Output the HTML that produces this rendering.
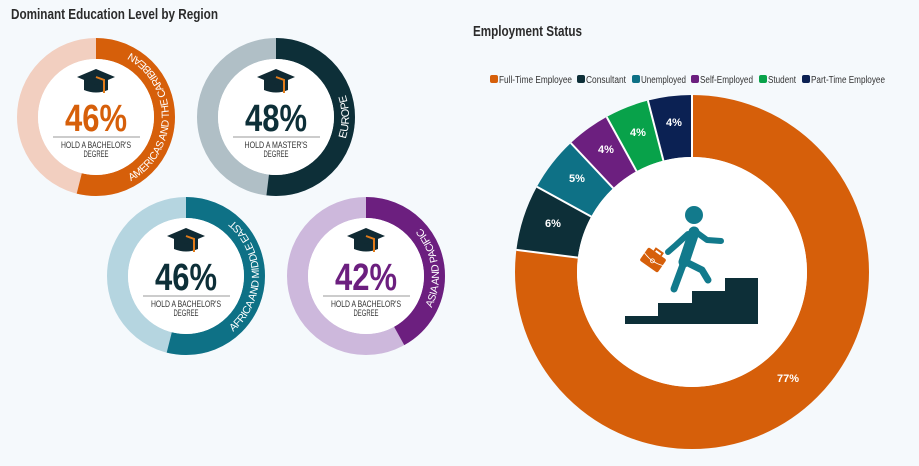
<!DOCTYPE html>
<html><head><meta charset="utf-8"><style>
html,body{margin:0;padding:0;background:#f5f9fc;}
svg{display:block;font-family:"Liberation Sans",sans-serif;}
</style></head><body>
<svg width="919" height="466" viewBox="0 0 919 466" xmlns="http://www.w3.org/2000/svg">
<rect width="919" height="466" fill="#f5f9fc"/>
<text x="11" y="19" font-size="15" font-weight="bold" fill="#2b2b2b" textLength="207" lengthAdjust="spacingAndGlyphs">Dominant Education Level by Region</text>
<text x="473" y="36" font-size="15" font-weight="bold" fill="#2b2b2b" textLength="109" lengthAdjust="spacingAndGlyphs">Employment Status</text>

<defs>
<g id="cap">
<path d="M-12,-37 L12,-37 L12,-27 Q0,-22 -12,-27 Z" fill="#102a33"/>
<polygon points="-19,-40 0,-48 19,-40 0,-32" fill="#102a33"/>
<polyline points="0,-40 8,-37 8,-24" fill="none" stroke="#e07b1a" stroke-width="2"/>
</g>
</defs>

<!-- Circle 1 -->
<g transform="translate(96,117)">
<circle r="68.5" fill="none" stroke="#f2cfc0" stroke-width="21"/>
<circle r="68.5" fill="none" stroke="#d65f0a" stroke-width="21" pathLength="100" stroke-dasharray="54 100" transform="rotate(-90)"/>
<circle r="58" fill="#fff"/>
<path id="p1" d="M6.37,72.72 A73,73 0 0 0 6.37,-72.72" fill="none"/>
<text font-size="10.5" fill="#fff" letter-spacing="-0.4"><textPath href="#p1" startOffset="50%" text-anchor="middle">AMERICAS AND THE CARIBBEAN</textPath></text>
<use href="#cap"/>
<text x="0" y="14" font-size="38" font-weight="bold" fill="#d65f0a" text-anchor="middle" textLength="62" lengthAdjust="spacingAndGlyphs">46%</text>
<line x1="-43" y1="20" x2="44" y2="20" stroke="#999" stroke-width="1"/>
<text x="0" y="31" font-size="9" fill="#333" text-anchor="middle" textLength="70" lengthAdjust="spacingAndGlyphs">HOLD A BACHELOR'S</text>
<text x="0" y="40" font-size="9" fill="#333" text-anchor="middle" textLength="25" lengthAdjust="spacingAndGlyphs">DEGREE</text>
</g>

<!-- Circle 2 -->
<g transform="translate(276,117)">
<circle r="68.5" fill="none" stroke="#b0bfc6" stroke-width="21"/>
<circle r="68.5" fill="none" stroke="#0d2f38" stroke-width="21" pathLength="100" stroke-dasharray="52 100" transform="rotate(-90)"/>
<circle r="58" fill="#fff"/>
<path id="p2" d="M6.37,72.72 A73,73 0 0 0 6.37,-72.72" fill="none"/>
<text font-size="11" fill="#fff" letter-spacing="-0.3"><textPath href="#p2" startOffset="50%" text-anchor="middle">EUROPE</textPath></text>
<use href="#cap"/>
<text x="0" y="14" font-size="38" font-weight="bold" fill="#0d2f38" text-anchor="middle" textLength="62" lengthAdjust="spacingAndGlyphs">48%</text>
<line x1="-43" y1="20" x2="44" y2="20" stroke="#999" stroke-width="1"/>
<text x="0" y="31" font-size="9" fill="#333" text-anchor="middle" textLength="63" lengthAdjust="spacingAndGlyphs">HOLD A MASTER'S</text>
<text x="0" y="40" font-size="9" fill="#333" text-anchor="middle" textLength="25" lengthAdjust="spacingAndGlyphs">DEGREE</text>
</g>

<!-- Circle 3 -->
<g transform="translate(186,276)">
<circle r="68.5" fill="none" stroke="#b5d5e0" stroke-width="21"/>
<circle r="68.5" fill="none" stroke="#0e7186" stroke-width="21" pathLength="100" stroke-dasharray="54 100" transform="rotate(-90)"/>
<circle r="58" fill="#fff"/>
<path id="p3" d="M6.37,72.72 A73,73 0 0 0 6.37,-72.72" fill="none"/>
<text font-size="10.5" fill="#fff" letter-spacing="-0.4"><textPath href="#p3" startOffset="50%" text-anchor="middle">AFRICA AND MIDDLE EAST</textPath></text>
<use href="#cap"/>
<text x="0" y="14" font-size="38" font-weight="bold" fill="#0d2f38" text-anchor="middle" textLength="62" lengthAdjust="spacingAndGlyphs">46%</text>
<line x1="-43" y1="20" x2="44" y2="20" stroke="#999" stroke-width="1"/>
<text x="0" y="31" font-size="9" fill="#333" text-anchor="middle" textLength="70" lengthAdjust="spacingAndGlyphs">HOLD A BACHELOR'S</text>
<text x="0" y="40" font-size="9" fill="#333" text-anchor="middle" textLength="25" lengthAdjust="spacingAndGlyphs">DEGREE</text>
</g>

<!-- Circle 4 -->
<g transform="translate(366,276)">
<circle r="68.5" fill="none" stroke="#cdb8dc" stroke-width="21"/>
<circle r="68.5" fill="none" stroke="#6c1f7f" stroke-width="21" pathLength="100" stroke-dasharray="42 100" transform="rotate(-90)"/>
<circle r="58" fill="#fff"/>
<path id="p4" d="M18.9,70.5 A73,73 0 0 0 0,-73" fill="none"/>
<text font-size="10.5" fill="#fff" letter-spacing="-0.4"><textPath href="#p4" startOffset="50%" text-anchor="middle">ASIA AND PACIFIC</textPath></text>
<use href="#cap"/>
<text x="0" y="14" font-size="38" font-weight="bold" fill="#6c1f7f" text-anchor="middle" textLength="62" lengthAdjust="spacingAndGlyphs">42%</text>
<line x1="-43" y1="20" x2="44" y2="20" stroke="#999" stroke-width="1"/>
<text x="0" y="31" font-size="9" fill="#333" text-anchor="middle" textLength="70" lengthAdjust="spacingAndGlyphs">HOLD A BACHELOR'S</text>
<text x="0" y="40" font-size="9" fill="#333" text-anchor="middle" textLength="25" lengthAdjust="spacingAndGlyphs">DEGREE</text>
</g>

<!-- Legend -->
<g font-size="10" fill="#333">
<rect x="490" y="75" width="8" height="8" rx="2" fill="#d65f0a"/><text x="499" y="83" textLength="73" lengthAdjust="spacingAndGlyphs">Full-Time Employee</text>
<rect x="577" y="75" width="8" height="8" rx="2" fill="#0d2f38"/><text x="586" y="83" textLength="40" lengthAdjust="spacingAndGlyphs">Consultant</text>
<rect x="632" y="75" width="8" height="8" rx="2" fill="#0e7186"/><text x="641" y="83" textLength="45" lengthAdjust="spacingAndGlyphs">Unemployed</text>
<rect x="691" y="75" width="8" height="8" rx="2" fill="#6c1f7f"/><text x="700" y="83" textLength="53" lengthAdjust="spacingAndGlyphs">Self-Employed</text>
<rect x="759" y="75" width="8" height="8" rx="2" fill="#08a24a"/><text x="768" y="83" textLength="28" lengthAdjust="spacingAndGlyphs">Student</text>
<rect x="802" y="75" width="8" height="8" rx="2" fill="#0b2153"/><text x="811" y="83" textLength="74" lengthAdjust="spacingAndGlyphs">Part-Time Employee</text>
</g>

<!-- Big donut -->
<g transform="translate(692,272)">
<g transform="rotate(-90)" fill="none" stroke-width="62">
<circle r="146" stroke="#d65f0a" pathLength="100" stroke-dasharray="77 100"/>
<circle r="146" stroke="#0d2f38" pathLength="100" stroke-dasharray="0 77 6 100"/>
<circle r="146" stroke="#0e7186" pathLength="100" stroke-dasharray="0 83 5 100"/>
<circle r="146" stroke="#6c1f7f" pathLength="100" stroke-dasharray="0 88 4 100"/>
<circle r="146" stroke="#08a24a" pathLength="100" stroke-dasharray="0 92 4 100"/>
<circle r="146" stroke="#0b2153" pathLength="100" stroke-dasharray="0 96 4 100"/>
</g>
<circle r="115" fill="#fff"/>
</g>
<g stroke="#fff" stroke-width="2">
<line x1="577.9" y1="257.6" x2="516.4" y2="249.9"/>
<line x1="591.3" y1="216.6" x2="536.9" y2="186.7"/>
<line x1="613.2" y1="188.2" x2="570.8" y2="143"/>
<line x1="636.6" y1="171.3" x2="606.7" y2="117"/>
<line x1="663.4" y1="160.6" x2="647.9" y2="100.5"/>
<line x1="692" y1="157" x2="692" y2="94"/>
</g>
<g font-size="11" font-weight="bold" fill="#fff" text-anchor="middle">
<text x="788" y="382">77%</text>
<text x="553" y="227">6%</text>
<text x="577" y="182">5%</text>
<text x="606" y="153">4%</text>
<text x="638" y="136">4%</text>
<text x="674" y="126">4%</text>
</g>

<!-- Icon -->
<polygon points="625,324 625,316 658,316 658,303 692,303 692,291 725,291 725,278 758,278 758,324" fill="#0d2f38"/>
<g stroke="#127a8c" stroke-linecap="round" stroke-linejoin="round" fill="none">
<circle cx="694" cy="215" r="9" fill="#127a8c" stroke="none"/>
<line x1="694" y1="232" x2="684" y2="262" stroke-width="11"/>
<polyline points="696,232 707,240 721,241" stroke-width="6"/>
<polyline points="688,234 676,245 668,252" stroke-width="6"/>
<polyline points="684,262 674,289" stroke-width="7"/>
<polyline points="686,262 702,270 708,280" stroke-width="7"/>
</g>
<g transform="translate(653,260) rotate(35)">
<rect x="-11" y="-8" width="22" height="16" rx="2" fill="#d65f0a"/>
<path d="M-4,-8 v-3 h8 v3" fill="none" stroke="#d65f0a" stroke-width="2"/>
<path d="M-11,-1 Q0,3 11,-1" fill="none" stroke="#fff" stroke-width="0.8"/>
<circle cx="0" cy="1" r="2" fill="none" stroke="#fff" stroke-width="0.8"/>
</g>
</svg>
</body></html>
